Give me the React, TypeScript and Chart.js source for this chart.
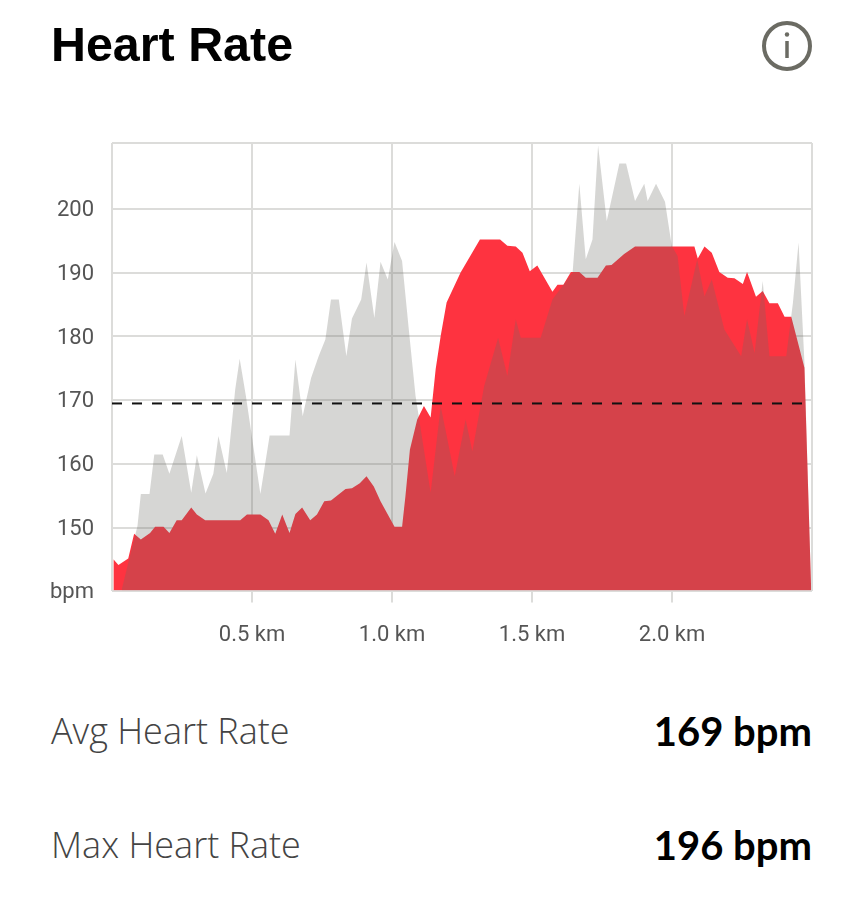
import React, { useEffect, useRef } from "react";
import { Chart, registerables } from "chart.js";

Chart.register(...registerables);

const redKm = [0.005,0.023,0.058,0.079,0.103,0.136,0.154,0.184,0.205,0.231,0.249,0.283,0.303,0.333,0.458,0.482,0.530,0.559,0.583,0.608,0.634,0.655,0.679,0.708,0.732,0.758,0.782,0.834,0.857,0.885,0.909,0.935,0.959,1.009,1.036,1.048,1.064,1.090,1.114,1.138,1.156,1.174,1.195,1.245,1.314,1.386,1.412,1.442,1.466,1.492,1.519,1.573,1.591,1.612,1.639,1.669,1.692,1.734,1.764,1.784,1.829,1.868,2.080,2.092,2.116,2.142,2.169,2.199,2.223,2.253,2.268,2.300,2.324,2.348,2.378,2.402,2.426,2.473,2.497];
const redBpm = [145.1,144.2,145.2,149.1,148.2,149.2,150.2,150.2,149.2,151.2,151.2,153.2,152.1,151.2,151.2,152.1,152.1,151.2,149.1,152.1,149.2,152.2,153.2,151.2,152.1,154.2,154.3,156.1,156.2,157,158.1,156.5,154.2,150.2,150.2,155,162.3,167,169.1,167.3,174.9,180.1,185.3,190,195.2,195.2,194.2,194.1,193.1,190.2,191.1,187,188.1,188.1,190.1,190.1,189.2,189.2,191.1,191.2,192.9,194.1,194.1,192.2,194.1,193.1,190.1,189.2,189.1,188.2,190.1,186.2,187.1,185.2,185.2,183.1,183.1,175.1,140.4];

const grayKm = [0.035,0.058,0.091,0.103,0.134,0.151,0.181,0.205,0.249,0.283,0.303,0.334,0.362,0.380,0.410,0.440,0.456,0.478,0.530,0.563,0.634,0.655,0.681,0.711,0.738,0.762,0.782,0.810,0.837,0.857,0.890,0.909,0.937,0.959,0.985,1.009,1.036,1.060,1.084,1.138,1.174,1.224,1.263,1.287,1.329,1.379,1.412,1.442,1.460,1.531,1.573,1.645,1.669,1.692,1.716,1.736,1.767,1.812,1.836,1.868,1.901,1.913,1.943,1.975,1.999,2.020,2.044,2.090,2.116,2.142,2.187,2.247,2.268,2.295,2.324,2.348,2.408,2.432,2.452,2.473,2.497];
const grayBpm = [140.4,144.5,150.3,155.3,155.3,161.5,161.5,158.5,164.4,155.5,161.4,155.4,158.5,164.4,158.6,171.7,176.5,170.7,155.3,164.5,164.5,176.4,167.5,173.5,176.9,179.5,185.8,185.8,176.9,182.8,185.8,191.6,182.9,191.7,188.9,194.8,191.8,181.1,170.7,155.5,169.1,158.1,167,162,172.2,179.8,173.8,182.7,179.8,179.8,185.8,190,203.9,192.1,195.2,209.9,198.1,207.1,207.1,201.2,203.9,201.2,203.9,201.1,194.2,192.6,183.2,192.1,186.3,188.9,181.1,176.9,182.7,177.4,188.7,176.9,176.9,185.3,194.7,175.9,140.4];

const avgLineKm = [0, 2.5];
const avgLineBpm = [169.5, 169.5];

const yMin = 140.2;
const yMax = 210.3;
const yTicks = [yMin, 150, 160, 170, 180, 190, 200, yMax];
const xTicks = [0, 0.5, 1, 1.5, 2, 2.5];
const xLabelled = [0.5, 1, 1.5, 2];

const title = "Heart Rate";
const stats = [
  { label: "Avg Heart Rate", value: "169 bpm", top: 709 },
  { label: "Max Heart Rate", value: "196 bpm", top: 823 },
];

const zip = (xs: number[], ys: number[]) => xs.map((x, i) => ({ x, y: ys[i] }));
const GRID = "#dcdcda";
const TICK_FONT = "Roboto";

export default function App() {
  const ref = useRef<HTMLCanvasElement | null>(null);
  useEffect(() => {
    document.body.style.margin = "0";
    const chart = new Chart(ref.current!, {
      type: "line",
      data: {
        datasets: [
          { data: zip(avgLineKm, avgLineBpm), borderColor: "#111", borderWidth: 2, borderDash: [10, 10], pointRadius: 0, fill: false, order: 0 },
          { data: zip(grayKm, grayBpm), borderWidth: 0, pointRadius: 0, backgroundColor: "rgba(107,107,102,0.28)", fill: "start", tension: 0, order: 1 },
          { data: zip(redKm, redBpm), borderWidth: 0, pointRadius: 0, backgroundColor: "#fe3340", fill: "start", tension: 0, order: 2 },
        ],
      },
      options: {
        animation: false,
        responsive: false,
        layout: { padding: { left: 0, right: 52, top: 24, bottom: 0 } },
        plugins: { legend: { display: false }, tooltip: { enabled: false } },
        scales: {
          x: {
            type: "linear",
            min: 0,
            max: 2.5,
            afterBuildTicks: (s: any) => { s.ticks = xTicks.map((value) => ({ value })); },
            afterFit: (s: any) => { s.height = 59.5; },
            grid: {
              color: GRID,
              lineWidth: 2,
              tickLength: 12,
              tickColor: (c: any) => (xLabelled.includes(c.tick?.value) ? GRID : "transparent"),
            },
            border: { display: false },
            ticks: {
              autoSkip: false,
              maxRotation: 0,
              padding: 20,
              color: "#555",
              font: { family: TICK_FONT, size: 22 },
              callback: (v: any) => (xLabelled.includes(v) ? `${Number(v).toFixed(1)} km` : ""),
            },
          },
          y: {
            min: yMin,
            max: yMax,
            afterBuildTicks: (s: any) => { s.ticks = yTicks.map((value) => ({ value })); },
            afterFit: (s: any) => { s.width = 112; },
            grid: { color: GRID, lineWidth: 2, drawTicks: false },
            border: { display: false },
            ticks: {
              autoSkip: false,
              padding: 18,
              color: "#555",
              font: { family: TICK_FONT, size: 22, lineHeight: 0.15 },
              callback: (v: any) => (v === yMin ? ["", "bpm"] : v === yMax ? "" : ["", String(v)]),
            },
          },
        },
      },
    } as any);
    return () => chart.destroy();
  }, []);

  return (
    <div style={{ position: "absolute", left: 0, top: 0, width: 864, height: 899, background: "#fff", overflow: "hidden" }}>
      <div style={{ position: "absolute", left: 51, top: 16, fontFamily: "'Liberation Sans'", fontWeight: 700, fontSize: 48.4, lineHeight: "56px", color: "#000", whiteSpace: "nowrap" }}>{title}</div>
      <svg width="56" height="56" style={{ position: "absolute", left: 759, top: 18 }}>
        <circle cx="28" cy="28" r="23" fill="none" stroke="#6b6b63" strokeWidth="4" />
        <circle cx="28" cy="16.5" r="2.2" fill="#6b6b63" />
        <line x1="28" y1="23" x2="28" y2="40" stroke="#6b6b63" strokeWidth="3.5" />
      </svg>
      <canvas ref={ref} width={864} height={531} style={{ position: "absolute", left: 0, top: 119, display: "block" }} />
      {stats.map((s) => (
        <React.Fragment key={s.label}>
          <div style={{ position: "absolute", left: 51, top: s.top, fontFamily: "'Open Sans'", fontWeight: 300, fontSize: 36, lineHeight: "44px", color: "#444", whiteSpace: "nowrap" }}>{s.label}</div>
          <div style={{ position: "absolute", right: 52, top: s.top, fontFamily: "Lato", fontWeight: 700, fontSize: 40, lineHeight: "44px", color: "#000", whiteSpace: "nowrap" }}>{s.value}</div>
        </React.Fragment>
      ))}
    </div>
  );
}
